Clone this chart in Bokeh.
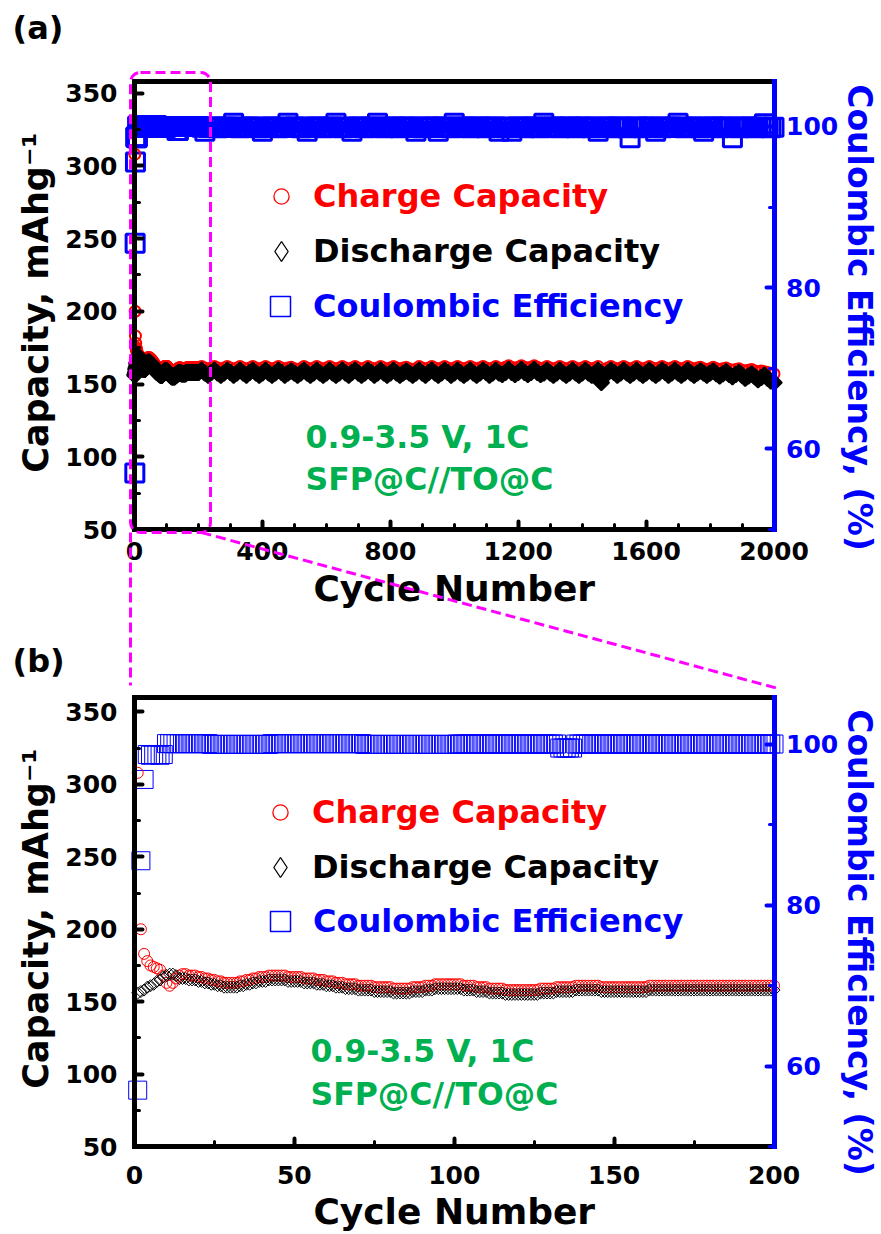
import math
from bokeh.plotting import figure
from bokeh.models import (Range1d, LinearAxis, FixedTicker, Legend, LegendItem,
                          Label, BoxAnnotation, Arrow, ColumnDataSource)
from bokeh.embed import file_html
from bokeh.resources import INLINE
from bokeh.core.properties import value

FONT = "DejaVu Sans"
BLUE = "#0000FF"
RED = "#FF0000"
GREEN = "#00B050"
MAGENTA = "#FF00FF"

# ---------------- data: first 200 cycles (panel b, also start of panel a) -------------
b_cycles = list(range(1, 201))
b_charge = [
    308, 200, 183, 178, 175, 174, 173, 172, 168, 163,
    161, 163, 166, 168, 169, 169, 168, 168, 168, 167,
    167, 166, 166, 165, 165, 164, 164, 163, 163, 163,
    163, 163, 164, 164, 165, 165, 166, 166, 167, 167,
    167, 168, 168, 168, 168, 168, 168, 167, 167, 167,
    167, 167, 166, 166, 166, 166, 165, 165, 165, 164,
    164, 164, 163, 163, 163, 162, 162, 162, 162, 161,
    161, 161, 161, 161, 160, 160, 160, 160, 160, 160,
    159, 159, 159, 159, 159, 159, 160, 160, 160, 160,
    161, 161, 161, 162, 162, 162, 162, 162, 162, 162,
    162, 162, 161, 161, 161, 161, 160, 160, 160, 160,
    159, 159, 159, 159, 159, 158, 158, 158, 158, 158,
    158, 158, 158, 158, 158, 158, 159, 159, 159, 159,
    159, 160, 160, 160, 160, 160, 160, 161, 161, 161,
    161, 161, 161, 161, 161, 160, 160, 160, 160, 160,
    160, 160, 160, 160, 160, 160, 160, 160, 160, 160,
    161, 161, 161, 161, 161, 161, 161, 161, 161, 161,
    161, 161, 161, 161, 161, 161, 161, 161, 161, 161,
    161, 161, 161, 161, 161, 161, 161, 161, 161, 161,
    161, 161, 161, 161, 161, 161, 161, 161, 161, 161,
]
b_discharge = [
    156, 157, 158, 160, 161, 162, 164, 165, 167, 168,
    169, 169, 168, 166, 166, 166, 165, 165, 165, 164,
    164, 163, 163, 162, 162, 161, 161, 160, 160, 160,
    160, 160, 161, 161, 162, 162, 163, 163, 164, 164,
    164, 165, 165, 165, 165, 165, 165, 164, 164, 164,
    164, 164, 163, 163, 163, 163, 162, 162, 162, 161,
    161, 161, 160, 160, 160, 159, 159, 159, 159, 158,
    158, 158, 158, 158, 157, 157, 157, 157, 157, 157,
    156, 156, 156, 156, 156, 156, 157, 157, 157, 157,
    158, 158, 158, 159, 159, 159, 159, 159, 159, 159,
    159, 159, 158, 158, 158, 158, 157, 157, 157, 157,
    156, 156, 156, 156, 156, 155, 155, 155, 155, 155,
    155, 155, 155, 155, 155, 155, 156, 156, 156, 156,
    156, 157, 157, 157, 157, 157, 157, 158, 158, 158,
    158, 158, 158, 158, 158, 157, 157, 157, 157, 157,
    157, 157, 157, 157, 157, 157, 157, 157, 157, 157,
    158, 158, 158, 158, 158, 158, 158, 158, 158, 158,
    158, 158, 158, 158, 158, 158, 158, 158, 158, 158,
    158, 158, 158, 158, 158, 158, 158, 158, 158, 158,
    158, 158, 158, 158, 158, 158, 158, 158, 158, 158,
]
b_ce = [
    57.0, 85.5, 95.6, 98.7, 98.6, 98.7, 98.7, 98.6, 98.7, 100.05,
    100.05, 100.05, 100.05, 100.05, 100.05, 100.05, 100.05, 100.05, 100.05, 100.05,
    100.05, 100.05, 100.05, 99.95, 99.95, 99.95, 99.95, 99.95, 99.95, 99.95,
    99.95, 99.95, 99.95, 99.95, 99.95, 99.95, 99.95, 99.95, 99.95, 99.95,
    99.95, 99.95, 100.05, 100.05, 100.05, 100.05, 100.05, 100.05, 100.05, 100.05,
    100.05, 100.05, 100.05, 100.05, 100.05, 100.05, 100.05, 100.05, 100.05, 100.05,
    100.05, 100.05, 100.05, 100.05, 100.05, 100.05, 100.05, 100.05, 100.05, 100.05,
    100.05, 99.95, 99.95, 99.95, 99.95, 99.95, 99.95, 99.95, 99.95, 99.95,
    99.95, 99.95, 99.95, 99.95, 99.95, 99.95, 99.95, 99.95, 99.95, 99.95,
    99.95, 99.95, 99.95, 99.95, 99.95, 99.95, 99.95, 99.95, 99.95, 99.95,
    100.0, 100.0, 100.0, 100.0, 100.0, 100.0, 100.0, 100.0, 100.0, 100.0,
    100.0, 100.0, 100.0, 100.0, 100.0, 100.0, 100.0, 100.0, 100.0, 100.0,
    100.0, 100.0, 100.0, 100.0, 100.0, 100.0, 100.0, 100.0, 100.0, 100.0,
    100.0, 100.0, 99.5, 99.5, 99.5, 99.5, 99.5, 100.0, 100.0, 100.0,
    100.0, 100.0, 100.0, 100.0, 100.0, 100.0, 100.0, 100.0, 100.0, 100.0,
    100.0, 100.0, 100.0, 100.0, 100.0, 100.0, 100.0, 100.0, 100.0, 100.0,
    100.0, 100.0, 100.0, 100.0, 100.0, 100.0, 100.0, 100.0, 100.0, 100.0,
    100.0, 100.0, 100.0, 100.0, 100.0, 100.0, 100.0, 100.0, 100.0, 100.0,
    100.0, 100.0, 100.0, 100.0, 100.0, 100.0, 100.0, 100.0, 100.0, 100.0,
    100.0, 100.0, 100.0, 100.0, 100.0, 100.0, 100.0, 100.0, 100.0, 100.0,
]

# ---------------- data: long-term cycling, every 10th cycle 210..2000 (panel a) -------------
lt_cycles = list(range(210, 2001, 10))
lt_charge = [
    162, 161, 160, 161, 162, 161, 160, 161, 162, 161, 160, 161, 162, 161, 160, 161, 162, 161, 160, 161,
    162, 161, 160, 161, 162, 161, 160, 161, 161.5, 160.5, 160, 160.5, 162, 161, 160, 161, 162, 161, 160, 161,
    162, 161, 160, 161, 162, 161, 160, 161, 162, 161, 160, 161, 162, 161, 160, 161, 162, 161, 160, 161,
    162, 161, 160, 161, 161.5, 160.5, 160, 160.5, 162, 161, 160, 161, 162, 161, 160, 161, 162, 161, 160, 161,
    162, 161, 160, 161, 162, 161, 160, 161, 162, 161, 160, 161, 162, 161, 160.5, 161.5, 162.5, 161.5, 160.5, 161.5,
    162.5, 161.5, 160.5, 161.5, 162.5, 161.5, 160.5, 161, 162, 161, 160, 161, 162, 161, 160, 161, 162, 161, 160, 161,
    162, 161, 160, 161, 162, 159, 160, 161, 162, 161, 160, 161, 162, 161, 160, 161, 162, 161, 160, 161,
    162, 161, 160, 161, 162, 161, 160, 161, 162, 161, 160, 161, 162, 161, 160, 161, 161.5, 160.5, 160, 160.5,
    161.5, 160.5, 160, 160.5, 161, 160, 159.5, 160, 160.5, 159.5, 159, 159.5, 160, 159, 158.5, 159, 158.5, 158, 157.5, 157,
]
lt_discharge = [
    159.5, 157.5, 156, 158, 159.5, 157.5, 156, 157.5, 159.5, 158, 156, 157.5, 159.5, 157.5, 156, 158, 159.5, 157.5, 156, 157.5,
    159.5, 157.5, 156, 157.5, 159.5, 158, 156, 157.5, 159, 157.5, 156, 157.5, 159.5, 157.5, 156, 157.5, 159.5, 157.5, 156, 157.5,
    159.5, 157.5, 156, 157.5, 159.5, 157.5, 156, 158, 159.5, 157.5, 156, 157.5, 159.5, 158, 156, 157.5, 159.5, 157.5, 156, 157.5,
    159.5, 157.5, 156, 157.5, 159, 157.5, 156, 157.5, 159.5, 157.5, 156, 158, 159.5, 157.5, 156, 157.5, 159.5, 158, 156, 157.5,
    159.5, 157.5, 156, 157.5, 159.5, 157.5, 156, 157.5, 159.5, 158, 156, 157.5, 159.5, 157.5, 156.5, 158, 160, 158, 156.5, 158,
    160, 158, 156.5, 158, 160, 158, 156.5, 157.5, 159.5, 157.5, 156, 157.5, 159.5, 157.5, 156, 157.5, 159.5, 157.5, 156, 157.5,
    159.5, 157.5, 156, 157.5, 159.5, 151, 156, 157.5, 159.5, 158, 156, 157.5, 159.5, 157.5, 156, 157.5, 159.5, 157.5, 156, 157.5,
    159.5, 157.5, 156, 157.5, 159.5, 158, 156, 157.5, 159.5, 157.5, 156, 157.5, 159.5, 157.5, 156, 157.5, 159, 157.5, 156, 157.5,
    159, 157, 155.5, 157, 158.5, 156.5, 155, 156.5, 158, 156, 154, 155.5, 157, 155, 153, 154.5, 156, 154, 152, 151,
]
lt_ce = [
    99.9, 99.4, 99.9, 99.95, 99.9, 99.85, 99.9, 99.9, 99.95, 99.9, 100.4, 99.9, 99.85, 99.9, 99.9, 99.95, 99.9, 99.9, 99.85, 99.4,
    99.9, 99.9, 99.95, 99.9, 99.85, 99.9, 99.9, 100.4, 99.9, 99.95, 99.9, 99.85, 99.9, 99.4, 99.9, 99.9, 99.95, 99.9, 99.85, 99.9,
    99.9, 99.95, 100.4, 99.9, 99.85, 99.9, 99.9, 99.4, 99.9, 99.95, 99.9, 99.85, 99.9, 99.9, 99.95, 100.4, 99.9, 99.85, 99.9, 99.9,
    99.95, 99.9, 99.85, 99.9, 99.9, 99.95, 99.9, 99.4, 99.9, 99.85, 99.9, 99.95, 99.9, 99.9, 99.4, 99.9, 99.95, 99.9, 99.85, 100.4,
    99.9, 99.9, 99.95, 99.9, 99.85, 99.9, 99.9, 99.95, 99.9, 99.85, 99.9, 99.9, 99.95, 99.4, 99.9, 99.85, 99.9, 99.4, 99.9, 99.95,
    99.9, 99.85, 99.9, 99.9, 99.95, 99.9, 99.85, 100.4, 99.9, 99.9, 99.95, 99.9, 99.85, 99.9, 99.9, 99.95, 99.9, 99.85, 99.9, 99.9,
    99.95, 99.9, 99.85, 99.9, 99.4, 99.9, 99.95, 99.9, 99.85, 99.9, 99.9, 99.95, 99.9, 99.85, 98.6, 99.9, 99.95, 99.9, 99.85, 99.9,
    99.9, 99.95, 99.4, 99.9, 99.85, 99.9, 99.9, 99.95, 99.9, 100.4, 99.9, 99.85, 99.9, 99.9, 99.95, 99.9, 99.85, 99.4, 99.9, 99.9,
    99.95, 99.9, 99.85, 99.9, 99.9, 99.95, 98.6, 99.9, 99.85, 99.9, 99.9, 99.95, 99.9, 99.85, 99.9, 99.9, 100.35, 99.9, 99.85, 99.9,
]

a_cycles = b_cycles + lt_cycles
a_charge = b_charge + lt_charge
a_discharge = b_discharge + lt_discharge
a_ce = b_ce + lt_ce

cap_ticks = [50, 100, 150, 200, 250, 300, 350]
cap_minor = [75, 125, 175, 225, 275, 325]
ce_ticks = [60, 80, 100]
ce_minor = [50, 70, 90]
a_xticks = [0, 400, 800, 1200, 1600, 2000]
a_xminor = [100, 200, 300, 500, 600, 700, 900, 1000, 1100, 1300, 1400, 1500, 1700, 1800, 1900]
b_xticks = [0, 50, 100, 150, 200]
b_xminor = [25, 75, 125, 175]

NAN = float("nan")

# ---------------- layout geometry (canvas pixels) ----------------
W, H = 881, 1234
PA = dict(left=134, right=773.5, top=81, bottom=529)     # frame of panel (a)
PB = dict(left=134, right=773.5, top=697, bottom=1146)   # frame of panel (b)


def x_range_for(panel, xmax):
    k = (panel["right"] - panel["left"]) / xmax
    s = -panel["left"] / k
    return Range1d(s, s + W / k)


def y_range_for(panel, y0, y1):
    k = (panel["bottom"] - panel["top"]) / (y1 - y0)
    s = y0 - (H - panel["bottom"]) / k
    return Range1d(s, s + H / k)


xa_r = x_range_for(PA, 2000)
ya_r = y_range_for(PA, 50, 358)


def X(px):
    return xa_r.start + px * (xa_r.end - xa_r.start) / W


def Y(py):
    return ya_r.start + (H - py) * (ya_r.end - ya_r.start) / H


p = figure(width=W, height=H, x_range=xa_r, y_range=ya_r, x_axis_type=None, y_axis_type=None,
           output_backend="svg", toolbar_location=None,
           min_border=0, min_border_left=0, min_border_right=0, min_border_top=0, min_border_bottom=0)
p.outline_line_color = None
p.background_fill_color = "white"
p.border_fill_color = "white"
p.extra_x_ranges = {"b": x_range_for(PB, 200)}
p.extra_y_ranges = {"a_ce": y_range_for(PA, 50, 105.58),
                    "b_cap": y_range_for(PB, 50, 360),
                    "b_ce": y_range_for(PB, 50, 105.78)}


def make_axis(side, xr, yr, loc, bounds, ticks, minor, color, standoff):
    ax = LinearAxis(x_range_name=xr, y_range_name=yr, fixed_location=loc, bounds=bounds,
                    ticker=FixedTicker(ticks=ticks, minor_ticks=minor))
    ax.axis_line_color = color
    ax.axis_line_width = 5
    ax.axis_line_cap = "square"
    ax.major_tick_line_color = color
    ax.minor_tick_line_color = color
    ax.major_tick_in = 8
    ax.major_tick_out = 0
    ax.minor_tick_in = 5
    ax.minor_tick_out = 0
    ax.major_tick_line_width = 4
    ax.minor_tick_line_width = 3
    ax.major_tick_line_cap = "round"
    ax.minor_tick_line_cap = "round"
    ax.major_label_text_font = FONT
    ax.major_label_text_font_style = "bold"
    ax.major_label_text_font_size = "25px"
    ax.major_label_text_color = color
    ax.major_label_standoff = standoff
    p.add_layout(ax, side)
    return ax


def text(x, y, s, color, size, angle=0.0, align="left"):
    p.add_layout(Label(x=x, y=y, text=s, text_color=color, text_font=FONT, text_font_style="bold",
                       text_font_size=size, angle=angle, text_align=align, text_baseline="middle"))


def panel(xr, capr, cer, xmax, ytop, cetop, xticks, xminor, cycles, charge, discharge, ce,
          st, frame, legend_locs, label, label_pos, ann_pos, ttl, xstandoff):
    make_axis("above", xr, capr, ytop, (0, xmax), [], [], "black", 0)
    make_axis("below", xr, capr, 50, (0, xmax), xticks, xminor, "black", xstandoff)
    make_axis("left", xr, capr, 0, (50, ytop), cap_ticks, cap_minor, "black", 17)
    make_axis("right", xr, cer, xmax, (50, cetop), ce_ticks, ce_minor, BLUE, 12)

    src = ColumnDataSource(dict(x=cycles, charge=charge, discharge=discharge, ce=ce))
    p.scatter("x", "ce", source=src, x_range_name=xr, y_range_name=cer, marker="square", size=18,
              fill_color=None, line_color=BLUE, line_width=st["ce_lw"])
    p.scatter("x", "charge", source=src, x_range_name=xr, y_range_name=capr, marker="circle",
              size=11, fill_color=None, line_color=RED, line_width=st["ch_lw"])
    p.scatter("x", "discharge", source=src, x_range_name=xr, y_range_name=capr, marker="square",
              angle=math.pi / 4, size=st["dc_size"], fill_color=st["dc_fill"], line_color="black",
              line_width=st["dc_lw"])

    rc = p.scatter([NAN], [NAN], marker="circle", fill_color=None, line_color=RED, line_width=1.3)
    rd = p.scatter([NAN], [NAN], marker="diamond", fill_color=None, line_color="black", line_width=1.3)
    rs = p.scatter([NAN], [NAN], marker="square", fill_color=None, line_color=BLUE, line_width=1.5)
    for r, lab, col, loc, g, so in [
        (rc, "Charge Capacity", RED, legend_locs[0], 38, 13),
        (rd, "Discharge Capacity", "black", legend_locs[1], 50, 7),
        (rs, "Coulombic Efficiency", BLUE, legend_locs[2], 50, 8),
    ]:
        p.add_layout(Legend(items=[LegendItem(label=value(lab), renderers=[r])], location=loc,
                            glyph_width=g, glyph_height=g, label_height=g, label_standoff=so,
                            label_text_font=FONT, label_text_font_style="bold",
                            label_text_font_size="32px", label_text_color=col,
                            border_line_color=None, background_fill_alpha=0,
                            padding=0, margin=0, spacing=0))

    text(X(ann_pos[0]), Y(ann_pos[1]), "0.9-3.5 V, 1C", GREEN, "31.5px")
    text(X(ann_pos[0]), Y(ann_pos[2]), "SFP@C//TO@C", GREEN, "31.5px")
    text(X(label_pos[0]), Y(label_pos[1]), label, "black", "32px")
    # axis titles
    text(X(35), Y(ttl[0]), "Capacity, mAhg⁻¹", "black", "35px", math.pi / 2, "center")
    text(X(859), Y(ttl[1]), "Coulombic Efficiency, (%)", BLUE, "33px", -math.pi / 2, "center")
    text(X((frame["left"] + frame["right"]) / 2), Y(ttl[2]), "Cycle Number", "black", "36px",
         0.0, "center")


panel("default", "default", "a_ce", 2000, 358, 105.58, a_xticks, a_xminor,
      a_cycles, a_charge, a_discharge, a_ce,
      dict(ce_lw=3.0, ch_lw=2.0, dc_lw=2.0, dc_size=11, dc_fill="black"), PA,
      [(262, H - 215), (256, H - 276), (255, H - 331)], "(a)", (12, 27.5), (305, 436, 478),
      (302, 317, 588), 12)
panel("b", "b_cap", "b_ce", 200, 360, 105.78, b_xticks, b_xminor,
      b_cycles, b_charge, b_discharge, b_ce,
      dict(ce_lw=1.0, ch_lw=1.0, dc_lw=1.0, dc_size=8.5, dc_fill=None), PB,
      [(261, H - 831), (255, H - 892), (255, H - 946)], "(b)", (12, 660), (310, 1050, 1093),
      (918, 942, 1211), 19)

# magnifier box on panel (a) and its connectors down to panel (b)
dash = dict(line_color=MAGENTA, line_width=3, line_dash="10 5", line_alpha=1.0)
p.add_layout(BoxAnnotation(left=X(130), right=X(210), top=Y(72), bottom=Y(532),
                           fill_alpha=0, border_radius=10, **dash))
p.add_layout(Arrow(end=None, x_start=X(130), y_start=Y(532), x_end=X(130), y_end=Y(685), **dash))
p.add_layout(Arrow(end=None, x_start=X(201), y_start=Y(532), x_end=X(777.5), y_end=Y(688), **dash))

open("out.html", "w").write(file_html(p, INLINE))
